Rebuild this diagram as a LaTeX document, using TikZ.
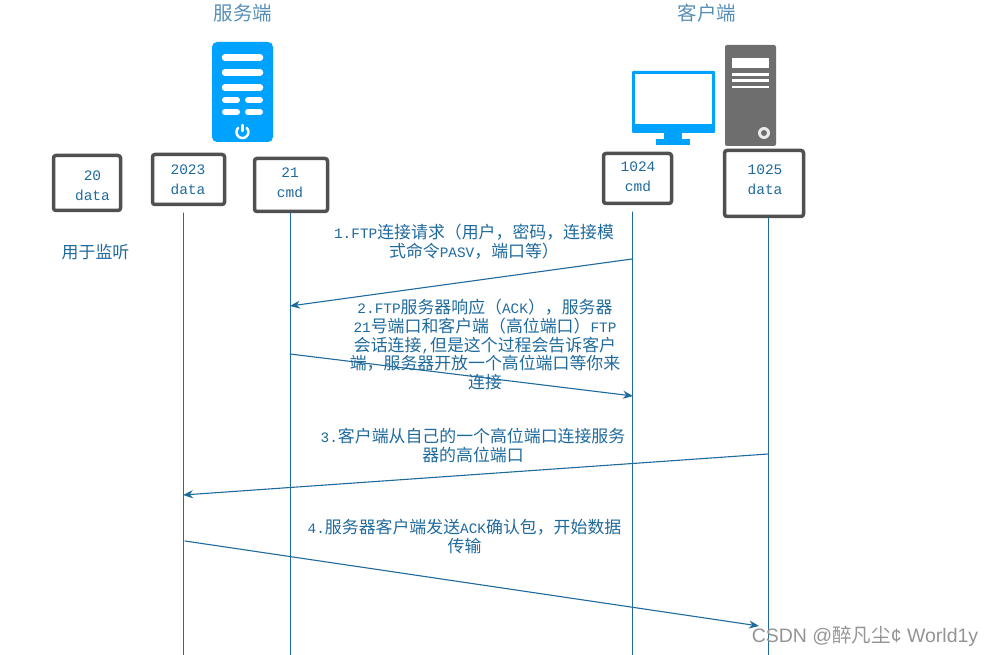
\documentclass[tikz,border=0pt]{standalone}
\usepackage{fontspec}
\setmainfont{Noto Sans CJK SC}
\newfontfamily\latfont{Liberation Mono}
\newfontfamily\markfont{Liberation Sans}
\newcommand{\mono}[1]{{\latfont\fontsize{14.4}{18.75}\selectfont #1}}
\usetikzlibrary{arrows.meta}
\definecolor{seqblue}{HTML}{1F6A9C}
\definecolor{boxgray}{HTML}{505050}
\definecolor{iconblue}{HTML}{00A2FF}
\definecolor{towergray}{HTML}{6E6E6E}
\tikzset{
  portbox/.style={draw=boxgray,line width=3.5pt,rounded corners=2.5pt,inner sep=0pt},
  porttext/.style={text=seqblue,align=center,font=\latfont\fontsize{14.5}{20}\selectfont},
  msgtext/.style={text=seqblue,align=center,font=\fontsize{16.9}{18.75}\selectfont},
  titletext/.style={text=seqblue!75,font=\fontsize{19.5}{22}\selectfont},
  lifeline/.style={draw=seqblue,line width=1pt},
  msgline/.style={draw=seqblue,line width=1.1pt,-{Stealth[length=10pt,width=8pt]}}
}
\begin{document}
\begin{tikzpicture}[x=1pt,y=-1pt,line cap=round]
\useasboundingbox (0,0) rectangle (994,655);

% --- Titoli ---
\node[titletext] (titleserver) at (243,13) {服务端};
\node[titletext] (titleclient) at (707,13) {客户端};

% --- Server ---
\fill[iconblue,rounded corners=5pt] (212,42) rectangle (273,142);
\draw[white,line width=6.5pt] (225,57.5)--(260,57.5);
\draw[white,line width=6.5pt] (225,72.5)--(260,72.5);
\draw[white,line width=6.5pt] (225,87.5)--(260,87.5);
\draw[white,line width=6pt] (225,100)--(237,100);
\draw[white,line width=6pt] (248,100)--(260,100);
\draw[white,line width=6pt] (225,112)--(237,112);
\draw[white,line width=6pt] (248,112)--(260,112);
\draw[white,line width=2.4pt] (238.2,127.8) arc[start angle=225,end angle=-45,radius=6];
\draw[white,line width=2.4pt] (242.4,125)--(242.4,131);

% --- Monitor ---
\fill[iconblue,rounded corners=1pt] (632,71) rectangle (715,133);
\fill[white] (635,74) rectangle (712,124);
\fill[iconblue] (664,133) rectangle (682,139);
\fill[iconblue] (656,139) rectangle (690,145);

% --- Tower ---
\fill[towergray,rounded corners=2pt] (725,45) rectangle (776,146);
\fill[white] (732,58) rectangle (769,68);
\fill[white] (732,73) rectangle (769,76);
\fill[white] (732,79) rectangle (769,82);
\fill[white] (732,86) rectangle (769,88);
\fill[white!92!black] (764,133) circle (6);
\fill[towergray] (764,133) circle (3);

% --- Porte ---
\node[portbox,minimum width=67pt,minimum height=55pt] (box20) at (87,183) {};
\node[portbox,minimum width=72pt,minimum height=50pt] (box2023) at (188.5,179.5) {};
\node[portbox,minimum width=73pt,minimum height=53pt] (box21) at (291,185) {};
\node[portbox,minimum width=68pt,minimum height=50pt] (box1024) at (637.5,178.5) {};
\node[portbox,minimum width=79pt,minimum height=66pt] (box1025) at (764,183.5) {};
\node[porttext] (text20) at (92.5,186) {20\\data};
\node[porttext] (text2023) at (188,180) {2023\\data};
\node[porttext] (text21) at (290,183) {21\\cmd};
\node[porttext] (text1024) at (638,177) {1024\\cmd};
\node[porttext] (text1025) at (765,180) {1025\\data};
\node[msgtext] (listen) at (95.5,252) {用于监听};

% --- Linee di vita ---
\coordinate (top2023) at (183,213);
\coordinate (end2023) at (183,655);
\coordinate (top21) at (290,213);
\coordinate (end21) at (290,655);
\coordinate (top1024) at (632,212);
\coordinate (end1024) at (632,655);
\coordinate (top1025) at (768,218);
\coordinate (end1025) at (768,655);
\draw[lifeline] (top2023) -- (end2023);
\draw[lifeline] (top21) -- (end21);
\draw[lifeline] (top1024) -- (end1024);
\draw[lifeline] (top1025) -- (end1025);

% --- Messaggi ---
\coordinate (a1) at (632,259);
\coordinate (b1) at (290,306);
\coordinate (a2) at (290,354);
\coordinate (b2) at (633,396);
\coordinate (a3) at (768,454);
\coordinate (b3) at (183,495);
\coordinate (a4) at (185,541);
\coordinate (b4) at (759,626);
\draw[msgline] (a1) -- (b1);
\draw[msgline] (a2) -- (b2);
\draw[msgline] (a3) -- (b3);
\draw[msgline] (a4) -- (b4);

\node[msgtext] (msg1) at (474,241.5) {\mono{1.FTP}连接请求（用户，密码，连接模\\式命令\mono{PASV}，端口等）};
\node[msgtext] (msg2) at (485,344.5) {\mono{2.FTP}服务器响应（\mono{ACK}），服务器\\\mono{21}号端口和客户端（高位端口）\mono{FTP}\\会话连接\mono{,}但是这个过程会告诉客户\\端，服务器开放一个高位端口等你来\\连接};
\node[msgtext] (msg3) at (473,445.5) {\mono{3.}客户端从自己的一个高位端口连接服务\\器的高位端口};
\node[msgtext] (msg4) at (464.5,536.5) {\mono{4.}服务器客户端发送\mono{ACK}确认包，开始数据\\传输};

% --- Filigrana ---
\node[text=black!42,font=\fontsize{19.5}{22}\selectfont] (mark) at (865,636) {{\markfont CSDN @}醉凡尘{\markfont ¢ World1y}};

\end{tikzpicture}
\end{document}
